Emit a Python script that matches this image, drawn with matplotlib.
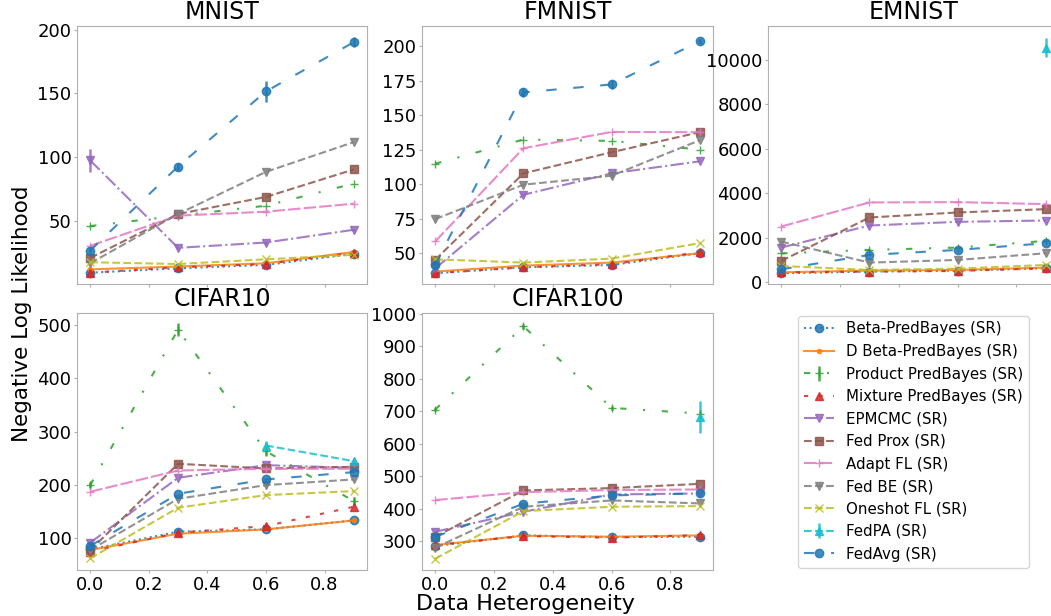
import numpy as np
import matplotlib
matplotlib.use("Agg")
import matplotlib.pyplot as plt

nan = np.nan
heterogeneity = [0.0, 0.3, 0.6, 0.9]
datasets = ["MNIST", "FMNIST", "EMNIST", "CIFAR10", "CIFAR100"]
methods = ["Beta-PredBayes (SR)", "D Beta-PredBayes (SR)", "Product PredBayes (SR)",
           "Mixture PredBayes (SR)", "EPMCMC (SR)", "Fed Prox (SR)", "Adapt FL (SR)",
           "Fed BE (SR)", "Oneshot FL (SR)", "FedPA (SR)", "FedAvg (SR)"]

# values per dataset, one list per method (order as in `methods`)
mnist = [
    [9.2, 12.6, 15.3, 24.0],
    [11.8, 14.0, 16.6, 25.5],
    [45.8, 54.0, 61.8, 79.2],
    [9.2, 13.4, 16.0, 25.0],
    [97.4, 28.7, 32.9, 42.9],
    [20.8, 55.3, 68.7, 90.3],
    [30.3, 54.0, 57.1, 63.4],
    [16.6, 55.3, 88.4, 111.8],
    [17.4, 16.0, 19.7, 23.2],
    [nan, nan, nan, nan],
    [26.6, 92.6, 151.6, 190.3],
]
fmnist = [
    [35.5, 39.8, 41.5, 50.0],
    [36.7, 41.0, 43.2, 50.0],
    [114.8, 132.3, 131.3, 125.0],
    [35.5, 39.8, 42.0, 50.7],
    [39.0, 92.3, 107.8, 116.5],
    [45.2, 107.8, 123.1, 137.6],
    [58.5, 126.0, 137.8, 137.6],
    [74.7, 99.6, 106.1, 131.8],
    [45.6, 43.2, 46.1, 57.3],
    [nan, nan, nan, nan],
    [41.5, 166.4, 172.2, 203.4],
]
emnist = [
    [405, 480, 525, 630],
    [450, 525, 555, 660],
    [1300, 1455, 1560, 1860],
    [450, 480, 510, 630],
    [1560, 2550, 2715, 2775],
    [960, 2910, 3135, 3285],
    [2505, 3585, 3600, 3510],
    [1830, 885, 1005, 1305],
    [735, 555, 615, 780],
    [nan, nan, nan, 10530],
    [585, 1230, 1455, 1755],
]
cifar10 = [
    [79.4, 112.5, 116.8, 133.6],
    [78.2, 108.7, 116.8, 133.6],
    [199.7, 490.7, 263.0, 169.8],
    [75.0, 110.6, 123.0, 159.2],
    [91.9, 213.4, 237.0, 232.0],
    [77.6, 239.6, 230.8, 234.0],
    [187.2, 227.0, 230.2, 230.2],
    [78.2, 174.0, 199.7, 210.3],
    [62.6, 157.3, 181.0, 188.5],
    [nan, nan, 273.8, 244.5],
    [85.7, 183.5, 210.3, 224.0],
]
cifar100 = [
    [284.6, 317.4, 312.3, 313.3],
    [287.7, 316.4, 313.3, 317.4],
    [704.7, 960.8, 709.8, 692.4],
    [287.7, 315.4, 310.2, 318.4],
    [328.7, 390.0, 443.4, 446.5],
    [313.0, 455.7, 463.0, 476.0],
    [426.0, 450.6, 456.8, 458.8],
    [279.5, 405.5, 425.0, 415.8],
    [245.7, 392.2, 405.5, 407.6],
    [nan, nan, nan, 682.0],
    [313.0, 414.8, 440.4, 446.5],
]
all_values = [mnist, fmnist, emnist, cifar10, cifar100]

# visible error bars (dataset, method) -> errors; others not visible
errors = {
    ("MNIST", "FedAvg (SR)"): [2, 3, 8, 4],
    ("MNIST", "EPMCMC (SR)"): [9, 1, 1, 1],
    ("FMNIST", "FedAvg (SR)"): [2, 3, 3, 2],
    ("EMNIST", "FedPA (SR)"): [0, 0, 0, 420],
    ("CIFAR10", "Product PredBayes (SR)"): [5, 12, 8, 8],
    ("CIFAR10", "FedPA (SR)"): [0, 0, 8, 5],
    ("CIFAR100", "Product PredBayes (SR)"): [5, 8, 5, 5],
    ("CIFAR100", "FedPA (SR)"): [0, 0, 0, 48],
}

yticks = {
    "MNIST": [50, 100, 150, 200],
    "FMNIST": [50, 75, 100, 125, 150, 175, 200],
    "EMNIST": [0, 2000, 4000, 6000, 8000, 10000],
    "CIFAR10": [100, 200, 300, 400, 500],
    "CIFAR100": [300, 400, 500, 600, 700, 800, 900, 1000],
}
ylims = {
    "MNIST": (0.3, 203),
    "FMNIST": (27.7, 214.5),
    "EMNIST": (-75, 11505),
    "CIFAR10": (40.8, 521.8),
    "CIFAR100": (210.9, 1001.8),
}

colors = ["C0", "C1", "C2", "C3", "C4", "C5", "C6", "C7", "C8", "C9", "C0"]
linestyles = [":", "-", (0, (3, 8, 1, 8)), (0, (2, 5)), "-.", "--", (0, (6, 1.5)),
              "--", "--", "--", (0, (5, 8))]
markers = ["o", ".", "+", "^", "v", "s", "+", "v", "x", "^", "o"]

plt.rcParams["font.size"] = 12
plt.rcParams["axes.edgecolor"] = "#b0b0b0"
plt.rcParams["xtick.color"] = "#b0b0b0"
plt.rcParams["ytick.color"] = "#b0b0b0"
plt.rcParams["xtick.labelcolor"] = "black"
plt.rcParams["ytick.labelcolor"] = "black"

W, H = 1051, 616
fig = plt.figure(figsize=(W / 100, H / 100), dpi=100)

def box(x0, y0, x1, y1):
    return [x0 / W, 1 - y1 / H, (x1 - x0) / W, (y1 - y0) / H]

positions = [box(77, 26, 367, 284), box(422, 26, 713, 284), box(768, 26, 1059, 284),
             box(77, 313, 367, 570), box(422, 313, 713, 570)]
axes = [fig.add_axes(p) for p in positions]

handles = []
for k, (ax, name, vals) in enumerate(zip(axes, datasets, all_values)):
    for i, m in enumerate(methods):
        err = errors.get((name, m), None)
        h = ax.errorbar(heterogeneity, vals[i], yerr=err, color=colors[i],
                        linestyle=linestyles[i], marker=markers[i], markersize=6,
                        linewidth=1.5, elinewidth=1.8, alpha=0.85, label=m)
        if k == 3:
            handles.append(h)
    ax.set_title(name, fontsize=17, pad=5)
    ax.set_xticks([0.0, 0.2, 0.4, 0.6, 0.8])
    ax.set_xlim(-0.045, 0.945)
    ax.set_yticks(yticks[name])
    ax.set_ylim(*ylims[name])
    ax.tick_params(labelsize=13, length=2.5, pad=1.5)
    if k < 3:
        ax.tick_params(labelbottom=False)

leg_ax = fig.add_axes(box(768, 313, 1059, 570))
leg_ax.axis("off")
leg_ax.legend(handles, methods, loc="center", fontsize=10.8, frameon=True)

fig.text(22 / W, 1 - 314 / H, "Negative Log Likelihood", rotation=90, va="center", ha="center", fontsize=15.5)
fig.text(525 / W, 1 - 614 / H, "Data Heterogeneity", va="bottom", ha="center", fontsize=16)

fig.savefig("out.png", dpi=100)
